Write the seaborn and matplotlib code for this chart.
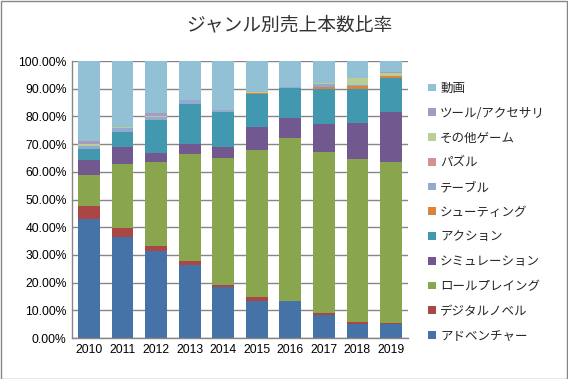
import numpy as np
import matplotlib
matplotlib.use("Agg")
import matplotlib.pyplot as plt
from matplotlib.patches import Patch, Rectangle
from matplotlib.ticker import PercentFormatter, MultipleLocator
import seaborn as sns

years = ["2010", "2011", "2012", "2013", "2014", "2015", "2016", "2017", "2018", "2019"]

# shares (%) per genre, bottom of the stack first
adventure = [43.0, 36.3, 31.3, 26.4, 18.5, 13.2, 13.5, 8.2, 5.2, 5.2]
digital_novel = [4.8, 3.6, 2.1, 1.5, 0.7, 1.7, 0.0, 0.7, 0.7, 0.3]
rpg = [10.9, 23.0, 30.2, 38.7, 45.9, 53.0, 58.7, 58.3, 58.8, 58.1]
simulation = [5.6, 5.9, 3.2, 3.5, 3.9, 8.3, 7.2, 10.1, 12.9, 18.0]
action = [4.0, 5.7, 12.0, 14.5, 12.6, 11.9, 10.9, 12.6, 12.4, 12.1]
shooting = [0.0, 0.0, 0.0, 0.0, 0.0, 0.3, 0.0, 0.8, 1.0, 0.9]
table = [0.9, 1.3, 1.0, 1.3, 0.7, 0.0, 0.3, 0.9, 0.5, 0.0]
puzzle = [0.0, 0.0, 0.0, 0.0, 0.0, 0.0, 0.0, 0.0, 0.0, 0.0]
other_game = [0.7, 0.5, 0.5, 0.0, 0.0, 0.4, 0.0, 0.6, 2.4, 1.1]
tool = [1.1, 0.0, 1.0, 0.0, 0.0, 0.0, 0.0, 0.0, 0.0, 0.4]
video = [29.0, 23.7, 18.7, 14.1, 17.7, 11.2, 9.4, 7.8, 6.1, 3.9]

genres = ["アドベンチャー", "デジタルノベル", "ロールプレイング", "シミュレーション", "アクション",
          "シューティング", "テーブル", "パズル", "その他ゲーム", "ツール/アクセサリ", "動画"]
series = [adventure, digital_novel, rpg, simulation, action, shooting,
          table, puzzle, other_game, tool, video]
colors = ["#4572A7", "#AA4643", "#89A54E", "#71588F", "#4198AF", "#DB843D",
          "#93A9CF", "#D19392", "#B9CD96", "#A99BBD", "#92C1D5"]

sns.set_style("white")
plt.rcParams["font.family"] = ["Noto Sans CJK JP", "DejaVu Sans"]

fig = plt.figure(figsize=(5.68, 3.79), dpi=100)
ax = fig.add_axes([0.127, 0.108, 0.591, 0.731])

cum = np.cumsum(np.array(series, dtype=float), axis=0)
# draw cumulative totals from the top down so each layer covers the next
for i in range(len(series) - 1, -1, -1):
    sns.barplot(x=years, y=cum[i], color=colors[i], width=0.65,
                saturation=1, edgecolor="none", linewidth=0, ax=ax, zorder=2)

ax.set_ylim(0, 100)
ax.set_xlim(-0.5, 9.5)
ax.yaxis.set_major_locator(MultipleLocator(10))
ax.yaxis.set_major_formatter(PercentFormatter(100, decimals=2))
ax.grid(axis="y", color="#868686", linewidth=1, zorder=0)
ax.set_axisbelow(True)
for s in ["top", "right"]:
    ax.spines[s].set_visible(False)
for s in ["left", "bottom"]:
    ax.spines[s].set_color("#868686")
    ax.spines[s].set_linewidth(1)
ax.tick_params(axis="both", length=0, labelsize=8.7, pad=4, colors="black")
for lab in ax.get_xticklabels() + ax.get_yticklabels():
    lab.set_family(["Liberation Sans", "DejaVu Sans"])
ax.set_xlabel("")
ax.set_ylabel("")

fig.text(0.51, 0.935, "ジャンル別売上本数比率", ha="center", va="center",
         fontsize=13.5, color="#333333")

handles = [Patch(facecolor=c, edgecolor="none") for c in colors][::-1]
fig.legend(handles, genres[::-1], loc="upper left", bbox_to_anchor=(0.745, 0.797),
           frameon=False, fontsize=9, handlelength=0.6, handleheight=0.6,
           handletextpad=0.35, labelspacing=0.94, borderaxespad=0)

fig.patches.append(Rectangle((0.001, 0.001), 0.997, 0.997, transform=fig.transFigure,
                             fill=False, edgecolor="#868686", linewidth=1))

fig.savefig("out.png", dpi=100)
